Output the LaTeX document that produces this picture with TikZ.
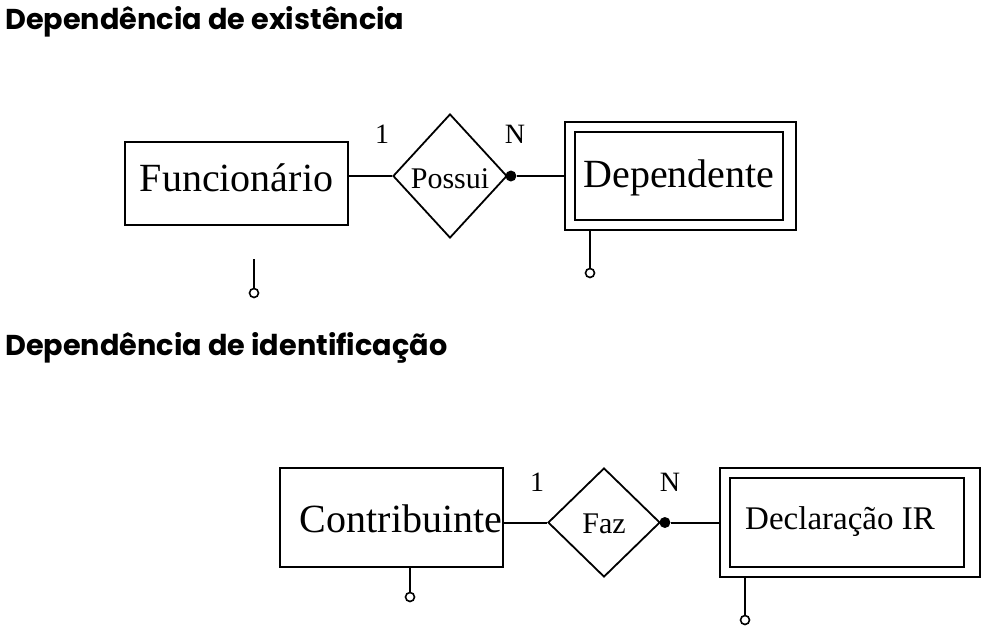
\documentclass[tikz,border=0pt]{standalone}
\usepackage{fontspec}
\setmainfont{Liberation Serif}
\newfontfamily\headfont{Poppins}
\usetikzlibrary{positioning}
\usetikzlibrary{shapes}

\begin{document}
\begin{tikzpicture}[x=1pt, y=-1pt,
	entity/.style={rectangle, draw=black, line width=2pt, inner sep=0pt, font=\fontsize{40}{44}\selectfont},
	weakbox/.style={rectangle, draw=black, line width=2pt, inner sep=0pt},
	relation/.style={diamond, draw=black, line width=1.8pt, inner sep=0pt, font=\fontsize{30}{34}\selectfont},
	card/.style={font=\fontsize{28}{32}\selectfont},
	partdot/.style={circle, fill=black, inner sep=0pt, minimum size=11pt},
	attrdot/.style={circle, draw=black, line width=1.6pt, fill=white, inner sep=0pt, minimum size=9pt},
	conn/.style={line width=2pt},
	heading/.style={anchor=base west, inner sep=0pt, font=\headfont\bfseries\fontsize{28.7}{34}\selectfont}]

	\useasboundingbox (0,0) rectangle (998,635);

	\node[heading] (titleA) at (5,29) {Dependência de existência};
	\node[heading] (titleB) at (5,355) {Dependência de identificação};

	% existencia
	\node[entity, minimum width=223pt, minimum height=83pt, text height=28pt, text depth=13pt] (func) at (236.5,183.5) {Funcionário};

	\node[relation, minimum width=114pt, minimum height=124pt, text height=24pt, text depth=0pt] (possui) at (450,176) {Possui};

	\node[entity, minimum width=208pt, minimum height=88pt, text height=28pt, text depth=6pt] (dep) at (679,176) {Dependente};
	\node[weakbox, minimum width=231pt, minimum height=108pt] (depOut) at (680.5,176) {};

	\node[partdot] (dotA) at ([xshift=3pt]possui.east) {};
	\node[card] (oneA) at (382,134) {1};
	\node[card] (nA) at (515,134) {N};

	\path [conn, draw] (possui.west) -- (possui.west -| func.east);
	\path [conn, draw] (dotA) -- (dotA -| depOut.west);

	\coordinate (topA) at (254,259);
	\node[attrdot] (attrA) at (254,293) {};
	\node[attrdot] (attrB) at (590,273) {};
	\path [conn, draw] (attrA) -- (topA);
	\path [conn, draw] (attrB) -- (attrB |- depOut.south);

	% identificacao
	\node[entity, minimum width=223pt, minimum height=99pt, text height=29pt, text depth=0pt] (contrib) at (391.5,517.5) {\hspace*{19pt}Contribuinte};

	\node[relation, minimum width=112pt, minimum height=109pt, text height=21pt, text depth=0pt] (faz) at (604,522.5) {Faz};

	\node[entity, font=\fontsize{33}{36}\selectfont, minimum width=234pt, minimum height=89pt, text height=26pt, text depth=13pt] (decl) at (847,522.5) {Declaração IR\hspace*{14pt}};
	\node[weakbox, minimum width=260pt, minimum height=109pt] (declOut) at (850,522.5) {};

	\node[partdot] (dotB) at ([xshift=4pt]faz.east) {};
	\node[card] (oneB) at (537,482) {1};
	\node[card] (nB) at (670,482) {N};

	\path [conn, draw] (faz.west) -- (faz.west -| contrib.east);
	\path [conn, draw] (dotB) -- (dotB -| declOut.west);

	\node[attrdot] (attrC) at (410,597) {};
	\node[attrdot] (attrD) at (745,620) {};
	\path [conn, draw] (attrC) -- (attrC |- contrib.south);
	\path [conn, draw] (attrD) -- (attrD |- declOut.south);
\end{tikzpicture}
\end{document}
